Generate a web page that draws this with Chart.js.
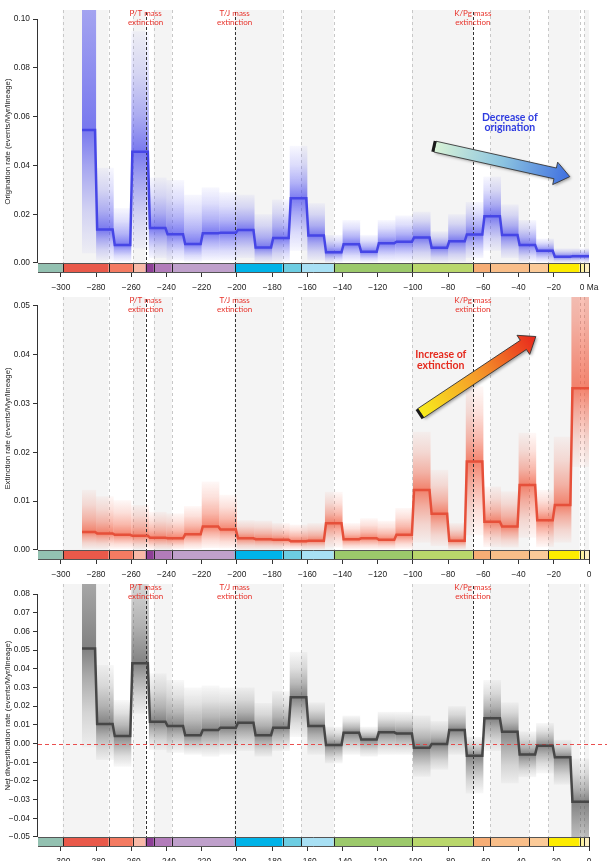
<!DOCTYPE html>
<html>
<head>
<meta charset="utf-8">
<script src="https://cdn.jsdelivr.net/npm/chart.js@4.4.1/dist/chart.umd.min.js"></script>
<style>
  body { margin: 0; background: #fff; width: 607px; height: 861px; overflow: hidden; position: relative; }
  canvas { position: absolute; left: 0; }
</style>
</head>
<body>
<canvas id="orig" width="607" height="293" style="top:0"></canvas>
<canvas id="ext"  width="607" height="293" style="top:287px"></canvas>
<canvas id="net"  width="607" height="293" style="top:574px"></canvas>
<script>
/* ─── TIME BINS (Ma) ──────────────────────────────────────── */
const binStart = [-288, -280, -270, -260, -250, -240, -230, -220, -210, -200, -190, -180, -170, -160, -150,
                  -140, -130, -120, -110, -100, -90, -80, -70, -60, -50, -40, -30, -20, -10];
const binEnd   = [-280, -270, -260, -250, -240, -230, -220, -210, -200, -190, -180, -170, -160, -150, -140,
                  -130, -120, -110, -100, -90, -80, -70, -60, -50, -40, -30, -20, -10, 0];

/* ─── ORIGINATION ─────────────────────────────────────────── */
const origRate = [0.0545, 0.0137, 0.0074, 0.0456, 0.0143, 0.0118, 0.0078, 0.0122, 0.0124, 0.0135, 0.0064, 0.0102, 0.0265, 0.0113, 0.0044,
                  0.0077, 0.0046, 0.0081, 0.0087, 0.0104, 0.0063, 0.0089, 0.0117, 0.0192, 0.0115, 0.0074, 0.0050, 0.0026, 0.0028];
const origHi   = [0.250, 0.039, 0.0225, 0.095, 0.035, 0.034, 0.028, 0.031, 0.029, 0.028, 0.020, 0.026, 0.048, 0.0245, 0.0115,
                  0.0176, 0.0115, 0.0176, 0.0195, 0.021, 0.013, 0.020, 0.025, 0.0354, 0.024, 0.0176, 0.010, 0.006, 0.006];
const origLo   = [0.004, 0.001, 0.0005, 0.006, 0.002, 0.001, 0.0005, 0.001, 0.001, 0.002, 0.0003, 0.0005, 0.005, 0.001, 0.0002,
                  0.0005, 0.0002, 0.0005, 0.0005, 0.001, 0.0003, 0.0005, 0.002, 0.005, 0.002, 0.0005, 0.0003, 0.0002, 0.0002];

/* ─── EXTINCTION ──────────────────────────────────────────── */
const extRate = [0.0037, 0.0034, 0.0031, 0.0029, 0.0025, 0.0024, 0.0032, 0.0048, 0.0042, 0.0024, 0.0022, 0.0021, 0.0018, 0.0019, 0.0055,
                 0.0022, 0.0024, 0.0021, 0.0031, 0.0123, 0.0074, 0.0019, 0.0181, 0.0058, 0.0048, 0.0133, 0.0061, 0.0092, 0.0331];
const extHi   = [0.0123, 0.011, 0.0102, 0.0092, 0.0078, 0.0075, 0.009, 0.014, 0.0113, 0.0061, 0.006, 0.0055, 0.0052, 0.0055, 0.0119,
                 0.0055, 0.0065, 0.006, 0.0086, 0.0242, 0.0164, 0.0055, 0.0335, 0.013, 0.012, 0.024, 0.0123, 0.0232, 0.080];
const extLo   = [0.0002, 0.0002, 0.0002, 0.0002, 0.0001, 0.0001, 0.0002, 0.0004, 0.0003, 0.0001, 0.0001, 0.0001, 0.0001, 0.0001, 0.0005,
                 0.0001, 0.0001, 0.0001, 0.0002, 0.0015, 0.0008, 0.0001, 0.003, 0.0006, 0.0005, 0.0025, 0.0006, 0.0015, 0.017];

/* ─── NET DIVERSIFICATION ─────────────────────────────────── */
const netRate = [0.0509, 0.0104, 0.0040, 0.0429, 0.0117, 0.0094, 0.0045, 0.0072, 0.0085, 0.0111, 0.0045, 0.0085, 0.0247, 0.0094, -0.0008,
                 0.0058, 0.0022, 0.0060, 0.0054, -0.0022, -0.0003, 0.0072, -0.0065, 0.0135, 0.0063, -0.0058, -0.0012, -0.0074, -0.0311];
const netHi   = [0.200, 0.042, 0.0233, 0.110, 0.0375, 0.034, 0.030, 0.031, 0.030, 0.030, 0.0217, 0.028, 0.049, 0.022, 0.009,
                 0.015, 0.009, 0.017, 0.017, 0.015, 0.012, 0.020, 0.0036, 0.034, 0.022, 0.0065, 0.011, 0.002, -0.008];
const netLo   = [-0.002, -0.0088, -0.0124, 0.016, -0.0035, -0.005, -0.006, -0.007, -0.006, -0.004, -0.007, -0.004, 0.0035, -0.006, -0.0106,
                 -0.006, -0.007, -0.006, -0.006, -0.0178, -0.014, -0.006, -0.0267, -0.004, -0.0213, -0.018, -0.016, -0.022, -0.075];

/* ─── GEOLOGICAL TIME SCALE ───────────────────────────────── */
const geoEdges  = [-313, -298.9, -272.95, -259.1, -251.9, -247.2, -237, -201.3, -174.1, -163.5, -145, -100.5,
                   -66, -56, -33.9, -23.03, -5.333, -2.58, 0];
const geoColors = ['#93c1b1', '#e9594a', '#f47b62', '#f8b9a7', '#8d3f96', '#b27cba', '#bfa0cb', '#00b3e8', '#6dcde2',
                   '#a8e0f4', '#9cc96b', '#b9d76b', '#f6ad75', '#f9be89', '#fbca98', '#fdec00', '#fdf2a0', '#fdf0c2'];
const geoShaded = [0, 1, 0, 1, 0, 1, 0, 1, 0, 1, 0, 1, 0, 1, 0, 1, 0, 1];

const massAges   = [-251.9, -201.3, -66];
const massLabels = [['P/T mass', 'extinction'], ['T/J mass', 'extinction'], ['K/Pg mass', 'extinction']];

const xTicks    = [-300, -280, -260, -240, -220, -200, -180, -160, -140, -120, -100, -80, -60, -40, -20, 0];
const origTicks = [0, 0.02, 0.04, 0.06, 0.08, 0.10];
const extTicks  = [0, 0.01, 0.02, 0.03, 0.04, 0.05];
const netTicks  = [-0.05, -0.04, -0.03, -0.02, -0.01, 0, 0.01, 0.02, 0.03, 0.04, 0.05, 0.06, 0.07, 0.08];

/* ─── HELPERS ─────────────────────────────────────────────── */
const X_MIN = -313;
const JOIN  = 0.6;
const FONT  = "'Liberation Sans', Arial, sans-serif";
const NOTE_FONT = "Lato, 'Open Sans', sans-serif";
const minus = s => String(s).replace('-', '\u2212');

function stepPoints(vals) {
  const pts = [];
  vals.forEach((v, i) => {
    pts.push({ x: binStart[i] + (i ? JOIN : 0), y: v });
    pts.push({ x: binEnd[i] - (i < vals.length - 1 ? JOIN : 0), y: v });
  });
  return pts;
}

function drawArrow(ctx, x1, y1, x2, y2, stops) {
  const ang = Math.atan2(y2 - y1, x2 - x1), len = Math.hypot(x2 - x1, y2 - y1);
  const sw = 5.5, hw = 11.5, hl = 15;
  ctx.save();
  ctx.translate(x1, y1);
  ctx.rotate(ang);
  const g = ctx.createLinearGradient(0, 0, len, 0);
  stops.forEach(([o, c]) => g.addColorStop(o, c));
  ctx.beginPath();
  ctx.moveTo(0, -sw);
  ctx.lineTo(len - hl, -sw);
  ctx.lineTo(len - hl, -hw);
  ctx.lineTo(len, 0);
  ctx.lineTo(len - hl, hw);
  ctx.lineTo(len - hl, sw);
  ctx.lineTo(0, sw);
  ctx.closePath();
  ctx.shadowColor = 'rgba(0,0,0,0.35)';
  ctx.shadowBlur = 3;
  ctx.shadowOffsetX = 1.5;
  ctx.shadowOffsetY = 1.5;
  ctx.fillStyle = g;
  ctx.fill();
  ctx.shadowColor = 'transparent';
  ctx.strokeStyle = '#333';
  ctx.lineWidth = 0.8;
  ctx.stroke();
  ctx.fillStyle = '#1a1a1a';
  ctx.fillRect(-2.5, -sw, 3, 2 * sw);
  ctx.restore();
}

/* ─── BACKGROUND / TIME SCALE / ANNOTATION PLUGIN ─────────── */
function geoPlugin(p) {
  return {
    id: 'geo',
    beforeDatasetsDraw(chart) {
      const { ctx, chartArea: a, scales: { x, y } } = chart;
      const yBase = y.getPixelForValue(p.yTicks[0]);
      ctx.save();

      // alternating grey intervals
      ctx.fillStyle = '#f4f4f4';
      geoColors.forEach((c, i) => {
        if (!geoShaded[i]) return;
        const l = x.getPixelForValue(geoEdges[i]), r = x.getPixelForValue(geoEdges[i + 1]);
        ctx.fillRect(l, a.top, r - l, yBase - a.top);
      });

      // interval boundaries
      ctx.lineWidth = 1;
      for (let i = 1; i < geoEdges.length - 1; i++) {
        if (massAges.includes(geoEdges[i])) continue;
        const px = Math.round(x.getPixelForValue(geoEdges[i])) + 0.5;
        ctx.strokeStyle = '#c8c8c8';
        ctx.setLineDash([3, 3]);
        ctx.beginPath(); ctx.moveTo(px, a.top); ctx.lineTo(px, yBase); ctx.stroke();
      }

      // credible-interval shading, per bin
      ctx.setLineDash([]);
      ctx.save();
      ctx.beginPath();
      ctx.rect(a.left, a.top, a.right - a.left, yBase - a.top);
      ctx.clip();
      p.rate.forEach((v, i) => {
        const l = x.getPixelForValue(binStart[i]), r = x.getPixelForValue(binEnd[i]);
        const yh = y.getPixelForValue(p.hi[i]), yl = y.getPixelForValue(p.lo[i]), ym = y.getPixelForValue(v);
        const span = yl - yh;
        const m = Math.min(0.98, Math.max(0.02, (ym - yh) / span));
        const g = ctx.createLinearGradient(0, yh, 0, yl);
        const c = p.band;
        g.addColorStop(0, `rgba(${c},0.04)`);
        g.addColorStop(m * 0.35, `rgba(${c},0.18)`);
        g.addColorStop(m * 0.7, `rgba(${c},0.42)`);
        g.addColorStop(m, `rgba(${c},0.72)`);
        g.addColorStop(m + (1 - m) * 0.3, `rgba(${c},0.45)`);
        g.addColorStop(m + (1 - m) * 0.65, `rgba(${c},0.2)`);
        g.addColorStop(1, `rgba(${c},0.04)`);
        ctx.fillStyle = g;
        ctx.fillRect(l, yh, r - l, span);
      });
      ctx.restore();

      // mass extinctions
      ctx.strokeStyle = '#333';
      ctx.setLineDash([3, 2]);
      massAges.forEach(age => {
        const px = Math.round(x.getPixelForValue(age)) + 0.5;
        ctx.beginPath(); ctx.moveTo(px, a.top + 2); ctx.lineTo(px, yBase); ctx.stroke();
      });

      // zero line
      if (p.zeroLine) {
        const y0 = Math.round(y.getPixelForValue(0)) + 0.5;
        ctx.strokeStyle = 'rgba(232,60,60,0.9)';
        ctx.setLineDash([4, 3]);
        ctx.beginPath(); ctx.moveTo(a.left, y0); ctx.lineTo(chart.width, y0); ctx.stroke();
      }
      ctx.restore();
    },
    afterDatasetsDraw(chart) {
      const { ctx, chartArea: a, scales: { x, y } } = chart;
      const yBase = y.getPixelForValue(p.yTicks[0]);
      ctx.save();

      // time scale bar
      geoColors.forEach((c, i) => {
        const l = x.getPixelForValue(geoEdges[i]), r = x.getPixelForValue(geoEdges[i + 1]);
        ctx.fillStyle = c;
        ctx.fillRect(l, yBase, r - l, a.bottom - yBase);
      });
      ctx.strokeStyle = '#222';
      ctx.lineWidth = 1;
      for (let i = 1; i < geoEdges.length; i++) {
        const px = Math.round(x.getPixelForValue(geoEdges[i])) + 0.5;
        ctx.beginPath(); ctx.moveTo(px, yBase); ctx.lineTo(px, a.bottom); ctx.stroke();
      }
      ctx.strokeStyle = '#555';
      ctx.beginPath();
      ctx.moveTo(a.left, Math.round(yBase) + 0.5); ctx.lineTo(x.getPixelForValue(0), Math.round(yBase) + 0.5);
      ctx.moveTo(a.left, Math.round(a.bottom) - 0.5); ctx.lineTo(x.getPixelForValue(0), Math.round(a.bottom) - 0.5);
      ctx.stroke();

      // y axis line (tick range only)
      ctx.strokeStyle = '#333';
      ctx.beginPath();
      ctx.moveTo(a.left - 0.5, y.getPixelForValue(p.yTicks[0]));
      ctx.lineTo(a.left - 0.5, y.getPixelForValue(p.yTicks[p.yTicks.length - 1]));
      ctx.stroke();

      // mass extinction labels
      ctx.fillStyle = '#e8332b';
      ctx.font = `8px ${NOTE_FONT}`;
      ctx.textAlign = 'center';
      ctx.textBaseline = 'middle';
      massAges.forEach((age, i) => {
        const px = x.getPixelForValue(age);
        massLabels[i].forEach((t, k) => ctx.fillText(t, px, a.top + 3.5 + k * 9));
      });

      // trend arrow and note
      if (p.arrow) {
        const [[ax1, ay1], [ax2, ay2]] = p.arrow.from;
        drawArrow(ctx, x.getPixelForValue(ax1), y.getPixelForValue(ay1),
                  x.getPixelForValue(ax2), y.getPixelForValue(ay2), p.arrow.stops);
        ctx.fillStyle = p.arrow.color;
        ctx.font = `bold 10.5px ${NOTE_FONT}`;
        p.arrow.lines.forEach((t, k) => {
          ctx.fillText(t, x.getPixelForValue(p.arrow.text[0]), y.getPixelForValue(p.arrow.text[1]) + k * 10.5);
        });
      }
      ctx.restore();
    },
  };
}

/* ─── PANEL FACTORY ───────────────────────────────────────── */
function makePanel(id, p) {
  return new Chart(document.getElementById(id), {
    type: 'line',
    data: {
      datasets: [{
        data: stepPoints(p.rate),
        borderColor: p.line,
        borderWidth: 2.5,
        pointRadius: 0,
        tension: 0,
        fill: false,
      }],
    },
    options: {
      responsive: false,
      animation: false,
      events: [],
      layout: { padding: { top: 10, right: 18, left: 0, bottom: 0 } },
      plugins: { legend: { display: false }, tooltip: { enabled: false } },
      scales: {
        x: {
          type: 'linear',
          min: X_MIN,
          max: 0,
          afterFit: s => { s.height = 20; },
          afterBuildTicks: s => { s.ticks = xTicks.map(v => ({ value: v })); },
          grid: { drawOnChartArea: false, drawTicks: true, tickLength: 4, color: '#333' },
          border: { display: false },
          ticks: {
            autoSkip: false, maxRotation: 0, padding: 5.5, color: '#222',
            font: { family: FONT, size: 8.4 },
            callback: v => (v === 0 ? p.zeroLabel : minus(v)),
          },
        },
        y: {
          min: p.yMin,
          max: p.yMax,
          afterFit: s => { s.width = 38; },
          afterBuildTicks: s => { s.ticks = p.yTicks.map(v => ({ value: v })); },
          grid: { drawOnChartArea: false, drawTicks: true, tickLength: 5, color: '#333' },
          border: { display: false },
          ticks: {
            padding: 3, color: '#222',
            font: { family: FONT, size: 8.4 },
            callback: v => minus(v.toFixed(2)),
          },
          title: {
            display: true, text: p.title, color: '#222',
            font: { family: FONT, size: 7.8 },
            padding: { top: 3, bottom: 0 },
          },
        },
      },
    },
    plugins: [geoPlugin(p)],
  });
}

/* ─── INIT ────────────────────────────────────────────────── */
makePanel('orig', {
  rate: origRate, hi: origHi, lo: origLo,
  line: '#4646e6', band: '72,72,236',
  yMin: -0.0041, yMax: 0.1037, yTicks: origTicks,
  title: 'Origination rate (events/Myr/lineage)', zeroLabel: '0 Ma',
  arrow: {
    from: [[-87.5, 0.0477], [-10.9, 0.0354]],
    stops: [[0, '#d8f2d6'], [0.5, '#8cc4e0'], [1, '#3f6fe0']],
    color: '#2f3ce0', text: [-45, 0.0597], lines: ['Decrease of', 'origination'],
  },
});

makePanel('ext', {
  rate: extRate, hi: extHi, lo: extLo,
  line: '#e6503a', band: '240,85,55',
  yMin: -0.00205, yMax: 0.0518, yTicks: extTicks,
  title: 'Extinction rate (events/Myr/lineage)', zeroLabel: '0',
  arrow: {
    from: [[-95.6, 0.0280], [-30.2, 0.0437]],
    stops: [[0, '#f8ec1c'], [0.5, '#f5992a'], [1, '#e8261c']],
    color: '#e52a1e', text: [-84.2, 0.0400], lines: ['Increase of', 'extinction'],
  },
});

makePanel('net', {
  rate: netRate, hi: netHi, lo: netLo,
  line: '#474747', band: '85,85,85',
  yMin: -0.05535, yMax: 0.08535, yTicks: netTicks,
  title: 'Net diversification rate (events/Myr/lineage)', zeroLabel: '0',
  zeroLine: true,
});
</script>
</body>
</html>
